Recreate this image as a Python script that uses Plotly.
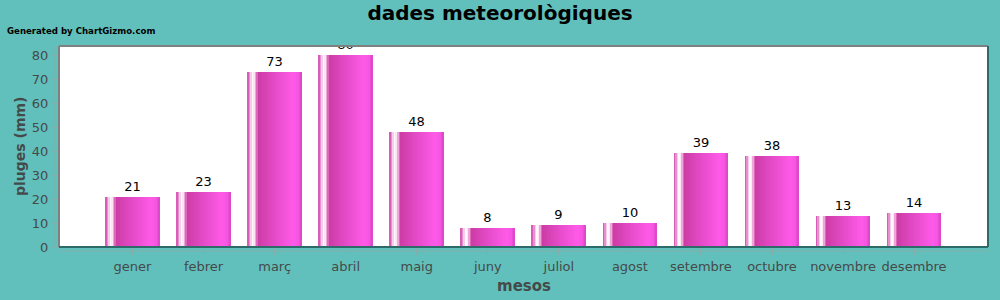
import plotly.graph_objects as go

months = ["gener", "febrer", "març", "abril", "maig", "juny", "juliol",
          "agost", "setembre", "octubre", "novembre", "desembre"]
rain_mm = [21, 23, 73, 80, 48, 8, 9, 10, 39, 38, 13, 14]
y_ticks = [0, 10, 20, 30, 40, 50, 60, 70, 80]

BG = "#62c0bc"
BAR_W = 0.77
N = 36
stops = [
    (0.00, (205, 70, 170)),
    (0.04, (230, 140, 205)),
    (0.09, (255, 248, 253)),
    (0.12, (255, 242, 250)),
    (0.16, (235, 150, 210)),
    (0.20, (205, 60, 165)),
    (0.50, (228, 75, 200)),
    (0.84, (255, 90, 232)),
    (0.93, (245, 85, 225)),
    (1.00, (215, 70, 195)),
]

def grad(t):
    for (t0, c0), (t1, c1) in zip(stops, stops[1:]):
        if t0 <= t <= t1:
            f = (t - t0) / (t1 - t0) if t1 > t0 else 0
            c = [round(a + (b - a) * f) for a, b in zip(c0, c1)]
            return "rgb(%d,%d,%d)" % tuple(c)
    return "rgb(%d,%d,%d)" % stops[-1][1]

fig = go.Figure()
sw = BAR_W / N
for i in range(N):
    off = -BAR_W / 2 + i * sw
    w = min(sw * 1.6, BAR_W / 2 - off)
    fig.add_trace(go.Bar(
        x=months, y=rain_mm, width=w, offset=off,
        marker=dict(color=grad((i + 0.5) / N), line=dict(width=0)),
        hoverinfo="skip", showlegend=False,
    ))

fig.add_trace(go.Bar(
    x=months, y=rain_mm, width=BAR_W,
    marker=dict(color="rgba(0,0,0,0)", line=dict(width=0)),
    text=[str(v) for v in rain_mm], textposition="outside",
    textfont=dict(family="DejaVu Sans", size=13, color="#000000"),
    cliponaxis=True, showlegend=False,
))

axis_col = "#84aeab"
txt_col = "#444a4a"
PW, PH = 929, 201

fig.update_layout(
    width=1000, height=300,
    margin=dict(l=59, r=12, t=46, b=53, autoexpand=False),
    paper_bgcolor=BG, plot_bgcolor="#ffffff",
    barmode="overlay",
    bargap=0,
    title=dict(text="<b>dades meteorològiques</b>", x=0.5, xanchor="center",
               y=0.957, yanchor="middle",
               font=dict(family="DejaVu Sans", size=20, color="#000000")),
    font=dict(family="DejaVu Sans", size=13, color=txt_col),
    xaxis=dict(
        type="category", range=[-1.035, 12.04], automargin=False,
        showgrid=False, zeroline=False, showline=False,
        ticks="outside", ticklen=7, tickcolor=axis_col, tickwidth=1,
        tickfont=dict(size=13, color=txt_col),
    ),
    yaxis=dict(
        range=[0, 83.75], tickvals=y_ticks, automargin=False,
        showgrid=False, zeroline=False, showline=False,
        ticks="outside", ticklen=7, tickcolor=axis_col, tickwidth=1,
        tickfont=dict(size=13, color=txt_col),
    ),
    annotations=[
        dict(text="<b>Generated by ChartGizmo.com</b>", xref="paper", yref="paper",
             x=-54 / PW, y=1 + 15 / PH, xanchor="left", yanchor="middle",
             showarrow=False, font=dict(family="DejaVu Sans", size=8.6, color="#000000")),
        dict(text="<b>mesos</b>", xref="paper", yref="paper",
             x=0.5, y=-39 / PH, xanchor="center", yanchor="middle",
             showarrow=False, font=dict(family="DejaVu Sans", size=15, color=txt_col)),
        dict(text="<b>pluges (mm)</b>", xref="paper", yref="paper",
             x=-39 / PW, y=100 / PH, xanchor="center", yanchor="middle", textangle=-90,
             showarrow=False, font=dict(family="DejaVu Sans", size=14, color=txt_col)),
    ],
    shapes=[
        dict(type="line", xref="paper", yref="paper", x0=-4 / PW, x1=-4 / PW,
             y0=0, y1=1, line=dict(color=axis_col, width=1), layer="above"),
        dict(type="line", xref="paper", yref="paper", x0=0, x1=1,
             y0=-4 / PH, y1=-4 / PH, line=dict(color=axis_col, width=1), layer="above"),
        dict(type="line", xref="paper", yref="paper", x0=0, x1=1, y0=1, y1=1,
             line=dict(color="#808080", width=2), layer="above"),
        dict(type="line", xref="paper", yref="paper", x0=0, x1=0, y0=0, y1=1,
             line=dict(color="#808080", width=2), layer="above"),
        dict(type="line", xref="paper", yref="paper", x0=1, x1=1, y0=0, y1=1,
             line=dict(color="#2e6a67", width=2), layer="above"),
        dict(type="line", xref="paper", yref="paper", x0=0, x1=1, y0=0, y1=0,
             line=dict(color="#2e6a67", width=2), layer="above"),
    ],
)

fig.write_html("out.html")
